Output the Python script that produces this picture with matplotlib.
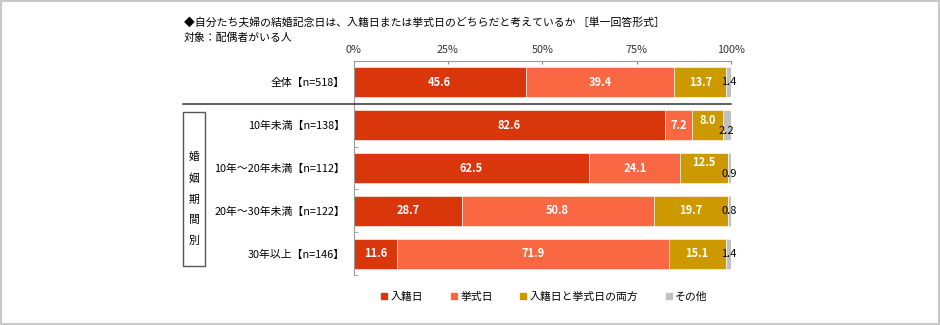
import matplotlib
matplotlib.use("Agg")
import matplotlib.pyplot as plt
from matplotlib.lines import Line2D
from matplotlib.patches import Rectangle
import numpy as np

plt.rcParams['font.family'] = ['Noto Sans CJK JP', 'DejaVu Sans']

categories = ["全体【n=518】", "10年未満【n=138】", "10年～20年未満【n=112】",
              "20年～30年未満【n=122】", "30年以上【n=146】"]
series_names = ["入籍日", "挙式日", "入籍日と挙式日の両方", "その他"]
nyuseki = [45.6, 82.6, 62.5, 28.7, 11.6]
kyoshiki = [39.4, 7.2, 24.1, 50.8, 71.9]
ryoho = [13.7, 8.0, 12.5, 19.7, 15.1]
sonota = [1.4, 2.2, 0.9, 0.8, 1.4]
xticks = [0, 25, 50, 75, 100]

colors = ["#D9360B", "#F96743", "#CC9900", "#C0C0C0"]

# label nudges in pixels (row, series) -> dy, positive = up
nudges = {(1, 2): 5, (1, 3): -6, (2, 2): 5, (2, 3): -6}

fig = plt.figure(figsize=(9.4, 3.25), dpi=100)
W, H = 940, 325
ax = fig.add_axes([353.5 / W, 1 - 275 / H, (731 - 353.5) / W, (275 - 61) / H])

data = [nyuseki, kyoshiki, ryoho, sonota]
ypos = np.arange(len(categories))
left = np.zeros(len(categories))
for si, (vals, col) in enumerate(zip(data, colors)):
    vals = np.array(vals)
    ax.barh(ypos, vals, 0.7, left=left, color=col, edgecolor="white", linewidth=0.4)
    for i, v in enumerate(vals):
        xc = left[i] + v / 2
        dy = nudges.get((i, si), 0)
        if si == 3:
            ax.annotate(f"{v:.1f}", (xc, ypos[i]), xytext=(0, dy), textcoords="offset pixels",
                        ha="center", va="center", fontsize=8, color="black")
        else:
            ax.annotate(f"{v:.1f}", (xc, ypos[i]), xytext=(0, dy), textcoords="offset pixels",
                        ha="center", va="center", fontsize=8, color="white", fontweight="bold")
    left = left + vals

ax.set_xlim(0, 100)
ax.set_ylim(4.5, -0.5)
ax.xaxis.tick_top()
ax.set_xticks(xticks)
ax.set_xticklabels([f"{t}%" for t in xticks], fontsize=7.8, color="#333333")
ax.tick_params(axis="x", direction="in", length=2, color="#888888", pad=4)
ax.set_yticks(ypos)
ax.set_yticklabels(categories, fontsize=7.8)
ax.tick_params(axis="y", which="major", length=0, pad=6)
ax.set_yticks([1.5, 2.5, 3.5, 4.5], minor=True)
ax.tick_params(axis="y", which="minor", direction="in", length=3, color="#999999")
for s in ["right", "bottom"]:
    ax.spines[s].set_visible(False)
for s in ["left", "top"]:
    ax.spines[s].set_color("#999999")
    ax.spines[s].set_linewidth(0.8)

# separator between total and breakdown
fig.add_artist(Line2D([183 / W, 731 / W], [1 - 104 / H, 1 - 104 / H], color="#333333", linewidth=1.1))

# side box
fig.add_artist(Rectangle((183 / W, 1 - 266 / H), 22 / W, 154 / H, fill=False,
                         edgecolor="#555555", linewidth=1.0))
fig.text(194 / W, 1 - 199 / H, "婚\n姻\n期\n間\n別", ha="center", va="center",
         fontsize=7.8, linespacing=2.3)

fig.text(184 / W, 1 - 22 / H,
         "◆自分たち夫婦の結婚記念日は、入籍日または挙式日のどちらだと考えているか ［単一回答形式］",
         ha="left", va="center", fontsize=7.8)
fig.text(184 / W, 1 - 38 / H, "対象：配偶者がいる人", ha="left", va="center", fontsize=7.8)

handles = [Line2D([], [], marker="s", linestyle="none", markersize=4, color=c) for c in colors]
fig.legend(handles, series_names, loc="center", bbox_to_anchor=(544 / W, 1 - 297 / H), ncol=4,
           frameon=False, fontsize=7.8, handletextpad=0.2, columnspacing=2.4, handlelength=0.8)

# outer frame
fig.add_artist(Rectangle((0.001, 0.002), 0.998, 0.996, fill=False, edgecolor="#C8C8C8", linewidth=1.5))

fig.savefig("out.png", dpi=100)
